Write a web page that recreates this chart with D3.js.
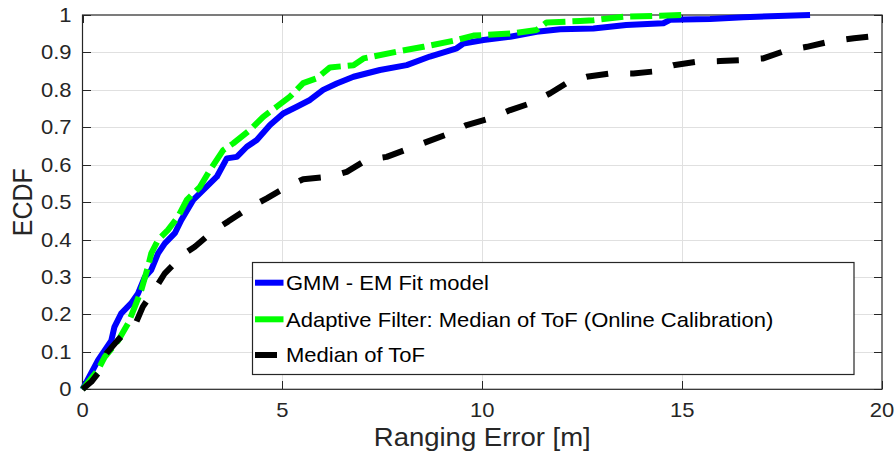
<!DOCTYPE html>
<html><head><meta charset="utf-8">
<script src="https://cdn.jsdelivr.net/npm/d3@7"></script>
<style>
body{margin:0;background:#fff}
svg{display:block}
text{font-family:"Liberation Sans",Arial,Helvetica,sans-serif;fill:#262626}
</style>
</head><body>
<svg id="c" width="895" height="452"></svg>
<script>
// ---------- data ----------
const xTicks = [0, 5, 10, 15, 20];
const xTickLabels = ["0", "5", "10", "15", "20"];
const yTicks = [0, 0.1, 0.2, 0.3, 0.4, 0.5, 0.6, 0.7, 0.8, 0.9, 1];
const yTickLabels = ["0", "0.1", "0.2", "0.3", "0.4", "0.5", "0.6", "0.7", "0.8", "0.9", "1"];

const seriesNames = ["GMM - EM Fit model", "Adaptive Filter: Median of ToF (Online Calibration)", "Median of ToF"];

const gmmX = [0, 0.39, 0.72, 0.8, 0.97, 1.22, 1.39, 1.56, 1.72, 1.89, 2.06, 2.31, 2.47, 2.77, 3.1, 3.36, 3.61, 3.86, 4.11, 4.36, 4.69, 5.02, 5.36, 5.69, 6.02, 6.36, 6.78, 7.44, 8.11, 8.69, 9.36, 9.53, 10.03, 10.7, 11.36, 11.95, 12.78, 13.6, 14.53, 14.7, 15.7, 16.53, 18.2];
const gmmY = [0, 0.078, 0.13, 0.167, 0.203, 0.23, 0.256, 0.30, 0.319, 0.363, 0.39, 0.417, 0.452, 0.506, 0.541, 0.568, 0.617, 0.621, 0.648, 0.666, 0.706, 0.737, 0.755, 0.773, 0.80, 0.817, 0.835, 0.853, 0.866, 0.889, 0.911, 0.924, 0.933, 0.942, 0.955, 0.962, 0.964, 0.973, 0.978, 0.987, 0.989, 0.994, 1.0];

const adaptX = [0, 0.39, 0.56, 0.89, 1.14, 1.31, 1.47, 1.64, 1.72, 1.89, 2.14, 2.39, 2.61, 2.94, 3.19, 3.52, 3.77, 4.19, 4.52, 4.86, 5.19, 5.52, 5.86, 6.19, 6.78, 7.03, 7.86, 8.53, 9.36, 9.78, 10.78, 11.36, 11.61, 12.45, 12.78, 13.6, 14.45, 15.0];
const adaptY = [0, 0.052, 0.087, 0.13, 0.176, 0.221, 0.265, 0.328, 0.363, 0.399, 0.426, 0.461, 0.506, 0.541, 0.586, 0.639, 0.657, 0.693, 0.728, 0.755, 0.782, 0.818, 0.831, 0.860, 0.866, 0.884, 0.902, 0.915, 0.933, 0.945, 0.951, 0.960, 0.980, 0.984, 0.986, 0.996, 0.998, 1.0];

const medX = [0, 0.22, 0.39, 0.6, 0.89, 1.35, 1.51, 1.85, 2.06, 2.56, 2.81, 3.31, 3.64, 4.18, 4.61, 5.11, 5.52, 6.19, 6.61, 7.11, 7.61, 8.19, 8.61, 9.19, 9.61, 10.2, 10.7, 11.2, 11.7, 12.11, 12.61, 13.2, 13.78, 14.28, 14.78, 15.37, 15.95, 16.53, 17.03, 17.62, 18.12, 18.7, 19.3, 20];
const medY = [0, 0.02, 0.043, 0.096, 0.132, 0.181, 0.221, 0.274, 0.31, 0.363, 0.381, 0.426, 0.448, 0.486, 0.51, 0.541, 0.561, 0.568, 0.581, 0.613, 0.621, 0.644, 0.661, 0.684, 0.706, 0.724, 0.746, 0.764, 0.791, 0.818, 0.835, 0.844, 0.844, 0.849, 0.866, 0.875, 0.877, 0.88, 0.884, 0.906, 0.915, 0.929, 0.938, 0.946];

// ---------- layout ----------
const L = 82.5, R = 882, T = 15, B = 389.3;
const SX = 1.1; // horizontal text stretch
const svg = d3.select("#c");
const x = d3.scaleLinear().domain([0, 20]).range([L, R]);
const y = d3.scaleLinear().domain([0, 1]).range([B, T]);
const axisColor = "#262626";
const gridColor = "#e0e0e0";

// grid
const g = svg.append("g").attr("shape-rendering", "crispEdges");
g.selectAll("line.gx").data(xTicks.slice(1, -1)).enter().append("line")
  .attr("x1", d => Math.round(x(d)) + 0.5).attr("x2", d => Math.round(x(d)) + 0.5)
  .attr("y1", T).attr("y2", B).attr("stroke", gridColor).attr("stroke-width", 1);
g.selectAll("line.gy").data(yTicks.slice(1, -1)).enter().append("line")
  .attr("y1", d => Math.round(y(d)) + 0.5).attr("y2", d => Math.round(y(d)) + 0.5)
  .attr("x1", L).attr("x2", R).attr("stroke", gridColor).attr("stroke-width", 1);

// axes via d3 axis (inner ticks on all 4 sides)
function styleAxis(sel) {
  sel.select(".domain").remove();
  sel.selectAll(".tick line").attr("stroke", axisColor).attr("stroke-width", 1).attr("shape-rendering", "crispEdges");
  sel.selectAll(".tick text").remove();
}
svg.append("g").attr("transform", `translate(0,${B})`)
  .call(d3.axisBottom(x).tickValues(xTicks).tickSizeInner(-8).tickSizeOuter(0)).call(styleAxis);
svg.append("g").attr("transform", `translate(0,${T})`)
  .call(d3.axisTop(x).tickValues(xTicks).tickSizeInner(-8).tickSizeOuter(0)).call(styleAxis);
svg.append("g").attr("transform", `translate(${L},0)`)
  .call(d3.axisLeft(y).tickValues(yTicks).tickSizeInner(-8).tickSizeOuter(0)).call(styleAxis);
svg.append("g").attr("transform", `translate(${R},0)`)
  .call(d3.axisRight(y).tickValues(yTicks).tickSizeInner(-8).tickSizeOuter(0)).call(styleAxis);

// box
svg.append("rect").attr("x", L).attr("y", T).attr("width", R - L).attr("height", B - T)
  .attr("fill", "none").attr("stroke", axisColor).attr("stroke-width", 1.2);

// tick labels
svg.selectAll("text.xt").data(xTicks).enter().append("text")
  .attr("transform", d => `translate(${x(d)},${B + 27.5}) scale(${SX},1)`)
  .attr("text-anchor", "middle").attr("font-size", 20)
  .text((d, i) => xTickLabels[i]);
svg.selectAll("text.yt").data(yTicks).enter().append("text")
  .attr("transform", d => `translate(${L - 11},${y(d) + 7}) scale(${SX},1)`)
  .attr("text-anchor", "end").attr("font-size", 20)
  .text((d, i) => yTickLabels[i]);

// axis labels
svg.append("text").attr("transform", `translate(${(L + R) / 2},${446}) scale(${SX},1)`)
  .attr("text-anchor", "middle").attr("font-size", 25).text("Ranging Error [m]");
svg.append("text").attr("transform", `translate(${32},${(T + B) / 2}) scale(${SX},1) rotate(-90)`)
  .attr("text-anchor", "middle").attr("font-size", 25).text("ECDF");

// series
const line = d3.line().x(d => x(d[0])).y(d => y(d[1]));
const series = [
  {xs: gmmX, ys: gmmY, color: "#0000ff", dash: null, w: 6},
  {xs: adaptX, ys: adaptY, color: "#00ff00", dash: "22,7", w: 6},
  {xs: medX, ys: medY, color: "#000000", dash: "22,22", w: 6}
];
series.forEach(s => {
  svg.append("path").datum(d3.zip(s.xs, s.ys)).attr("d", line)
    .attr("fill", "none").attr("stroke", s.color).attr("stroke-width", s.w)
    .attr("stroke-linejoin", "round").attr("stroke-linecap", "butt")
    .attr("stroke-dasharray", s.dash);
});

// legend
const lg = svg.append("g");
lg.append("rect").attr("x", 252.5).attr("y", 262.5).attr("width", 601.5).attr("height", 112)
  .attr("fill", "#fff").attr("stroke", axisColor).attr("stroke-width", 1.2);
const rowsY = [282.7, 319.3, 355];
const legendDash = [null, null, "22,22"];
series.forEach((s, i) => {
  lg.append("line").attr("x1", 255).attr("x2", 283.5).attr("y1", rowsY[i]).attr("y2", rowsY[i])
    .attr("stroke", s.color).attr("stroke-width", s.w).attr("stroke-dasharray", legendDash[i]);
  lg.append("text").attr("transform", `translate(286,${rowsY[i] + 7.3}) scale(${SX},1)`)
    .attr("font-size", 20).attr("fill", "#000").style("fill", "#000").text(seriesNames[i]);
});
</script>
</body></html>
